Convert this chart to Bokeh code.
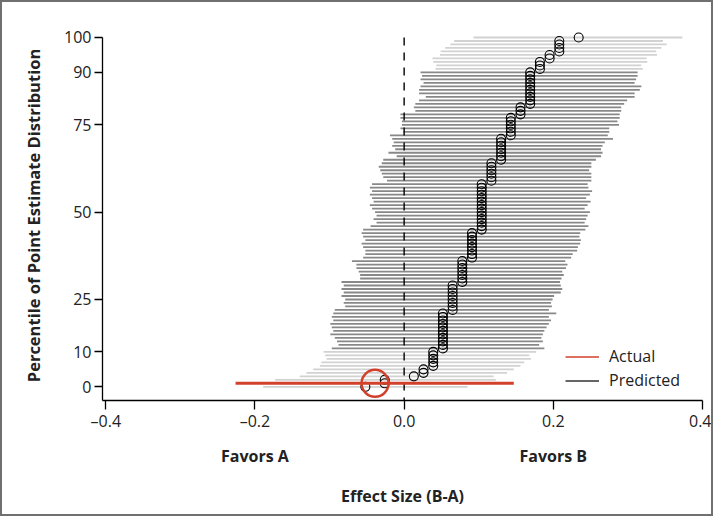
from bokeh.plotting import figure
from bokeh.models import ColumnDataSource, FixedTicker, LinearAxis, Legend, LegendItem, Range1d
from bokeh.embed import file_html
from bokeh.resources import INLINE

# ---------------- data ----------------
percentile = list(range(101))

point_estimate = [
    -0.052, -0.026, -0.026, 0.013, 0.026, 0.026, 0.039, 0.039, 0.039, 0.039, 0.039,
    0.052, 0.052, 0.052, 0.052, 0.052, 0.052, 0.052, 0.052, 0.052, 0.052, 0.052,
    0.065, 0.065, 0.065, 0.065, 0.065, 0.065, 0.065, 0.065,
    0.078, 0.078, 0.078, 0.078, 0.078, 0.078, 0.078,
    0.091, 0.091, 0.091, 0.091, 0.091, 0.091, 0.091, 0.091,
    0.104, 0.104, 0.104, 0.104, 0.104, 0.104, 0.104, 0.104, 0.104, 0.104, 0.104, 0.104, 0.104, 0.104,
    0.117, 0.117, 0.117, 0.117, 0.117, 0.117,
    0.130, 0.130, 0.130, 0.130, 0.130, 0.130, 0.130,
    0.143, 0.143, 0.143, 0.143, 0.143, 0.143,
    0.156, 0.156, 0.156,
    0.169, 0.169, 0.169, 0.169, 0.169, 0.169, 0.169, 0.169, 0.169, 0.169,
    0.182, 0.182, 0.182,
    0.195, 0.195,
    0.208, 0.208, 0.208, 0.208,
    0.234,
]

ci_lower = [
    -0.189, -0.165, -0.173, -0.140, -0.131, -0.122, -0.113, -0.111, -0.104, -0.106, -0.108,
    -0.097, -0.088, -0.090, -0.093, -0.099, -0.095, -0.097, -0.099, -0.095, -0.097, -0.095,
    -0.093, -0.079, -0.081, -0.079, -0.084, -0.081, -0.084, -0.081, -0.084,
    -0.059, -0.059, -0.061, -0.064, -0.064, -0.070,
    -0.055, -0.052, -0.052, -0.055, -0.057, -0.052, -0.055, -0.057, -0.055, -0.045,
    -0.037, -0.041, -0.037, -0.039, -0.043, -0.046, -0.041, -0.043, -0.046, -0.043, -0.046, -0.043,
    -0.023, -0.028, -0.030, -0.032, -0.034, -0.030, -0.028,
    -0.010, -0.021, -0.012, -0.016, -0.014, -0.016, -0.019,
    -0.001, -0.005, -0.003, -0.003, -0.005, -0.005,
    0.015, 0.013, 0.015, 0.020, 0.029, 0.020, 0.020, 0.022, 0.026, 0.022, 0.024, 0.022,
    0.042, 0.043, 0.039, 0.038, 0.048, 0.049, 0.055, 0.062, 0.067, 0.093,
]

ci_upper = [
    0.085, 0.110, 0.123, 0.120, 0.138, 0.147, 0.156, 0.161, 0.170, 0.168, 0.177,
    0.188, 0.181, 0.186, 0.184, 0.186, 0.188, 0.191, 0.194, 0.197, 0.194, 0.204,
    0.194, 0.198, 0.197, 0.199, 0.201, 0.210, 0.212, 0.210, 0.209,
    0.211, 0.214, 0.212, 0.217, 0.219, 0.216,
    0.224, 0.226, 0.232, 0.233, 0.236, 0.237, 0.235, 0.236, 0.243, 0.247,
    0.242, 0.244, 0.246, 0.249, 0.242, 0.246, 0.250, 0.244, 0.249, 0.252, 0.247, 0.246,
    0.251, 0.251, 0.251, 0.248, 0.251, 0.251, 0.257,
    0.264, 0.266, 0.264, 0.266, 0.269, 0.280, 0.273,
    0.275, 0.275, 0.288, 0.286, 0.289, 0.289,
    0.291, 0.291, 0.295, 0.299, 0.309, 0.309, 0.316, 0.318, 0.309, 0.311, 0.313, 0.313,
    0.320, 0.318, 0.326, 0.325, 0.339, 0.338, 0.345, 0.352, 0.347, 0.373,
]

actual_percentile = [1]
actual_estimate = [-0.039]
actual_lower = [-0.226]
actual_upper = [0.147]

null_effect = [0.0]

y_ticks = [0, 10, 25, 50, 75, 90, 100]
x_ticks = [-0.4, -0.2, 0.0, 0.2, 0.4]
x_tick_labels = ["\u20130.4", "\u20130.2", "0.0", "0.2", "0.4"]
favor_ticks = [-0.2, 0.2]
favor_labels = ["Favors A", "Favors B"]
legend_labels = ["Actual", "Predicted"]

inner_low, inner_high = 10, 90   # percentiles drawn darker lie strictly inside

# ---------------- styling ----------------
FONT = "Open Sans"
RED = "#d2402c"
DARK = "#888888"
LIGHT = "#d2d2d2"
TXT = "#222222"

y_start, y_end = -3.92, 102
x_start, x_end = -0.4044, 0.4

colors = [DARK if inner_low < q <= inner_high else LIGHT for q in percentile]
src = ColumnDataSource(dict(p=percentile, est=point_estimate, lo=ci_lower, hi=ci_upper, c=colors))

p = figure(width=713, height=516, x_range=Range1d(x_start, x_end), y_range=Range1d(y_start, y_end),
           output_backend="svg", toolbar_location=None,
           min_border_left=100, min_border_right=13, min_border_top=28, min_border_bottom=118)
p.styles = {"border": "2px solid #707070"}
p.grid.visible = False
p.outline_line_color = None
p.background_fill_color = "white"

# gray predicted interval lines
p.segment(x0="lo", y0="p", x1="hi", y1="p", source=src, line_color="c", line_width=1.8)

# null-effect dashed line
p.segment(x0=null_effect, y0=[max(percentile)], x1=null_effect, y1=[y_start],
          line_color="black", line_width=1.4, line_dash="8 7")

# point estimates
p.scatter(x="est", y="p", source=src, marker="circle", size=9, fill_color=None,
          line_color="black", line_width=1.1)

# actual result
p.segment(x0=actual_lower, y0=actual_percentile, x1=actual_upper, y1=actual_percentile,
          line_color=RED, line_width=3)
p.scatter(x=actual_estimate, y=actual_percentile, marker="circle", size=27, fill_color=None,
          line_color=RED, line_width=2.5)

# legend renderers (not drawn in the plot: NaN data)
nan = float("nan")
r_act = p.line(x=[nan, nan], y=[nan, nan], line_color=RED, line_width=1.5)
r_pred = p.line(x=[nan, nan], y=[nan, nan], line_color="#333333", line_width=1.5)
legend = Legend(items=[LegendItem(label=legend_labels[0], renderers=[r_act]),
                       LegendItem(label=legend_labels[1], renderers=[r_pred])],
                location=(463, 9), glyph_width=34, glyph_height=17, label_height=17,
                label_standoff=10, spacing=2, padding=0, margin=0,
                border_line_color=None, background_fill_alpha=0,
                label_text_font=FONT, label_text_font_size="16px", label_text_color=TXT)
p.add_layout(legend)

# y axis
ya = p.yaxis[0]
ya.ticker = FixedTicker(ticks=y_ticks)
ya.bounds = (y_start, max(y_ticks))
ya.major_tick_out = 8
ya.major_tick_in = 0
ya.minor_tick_line_color = None
ya.major_label_standoff = 3
ya.major_label_text_font = FONT
ya.major_label_text_font_size = "16px"
ya.major_label_text_color = TXT
ya.axis_label = "Percentile of Point Estimate Distribution"
ya.axis_label_text_font = FONT
ya.axis_label_text_font_size = "16.5px"
ya.axis_label_text_font_style = "bold"
ya.axis_label_text_color = TXT
ya.axis_label_standoff = 16
ya.axis_line_width = 1.3
ya.major_tick_line_width = 1.3

# x axis
xa = p.xaxis[0]
xa.ticker = FixedTicker(ticks=x_ticks)
xa.major_label_overrides = dict(zip(x_ticks, x_tick_labels))
xa.major_tick_out = 9
xa.major_tick_in = 0
xa.minor_tick_line_color = None
xa.major_label_standoff = 0
xa.major_label_text_font = FONT
xa.major_label_text_font_size = "16px"
xa.major_label_text_color = TXT
xa.axis_line_width = 1.3
xa.major_tick_line_width = 1.3

xb = LinearAxis(ticker=FixedTicker(ticks=favor_ticks),
                major_label_overrides=dict(zip(favor_ticks, favor_labels)),
                axis_line_color=None, major_tick_line_color=None, minor_tick_line_color=None,
                major_tick_out=0, major_tick_in=0, major_label_standoff=10,
                major_label_text_font=FONT, major_label_text_font_size="16px",
                major_label_text_font_style="bold", major_label_text_color=TXT,
                axis_label="Effect Size (B-A)", axis_label_text_font=FONT,
                axis_label_text_font_size="16px", axis_label_text_font_style="bold",
                axis_label_text_color=TXT, axis_label_standoff=15)
p.add_layout(xb, "below")

open("out.html", "w").write(file_html(p, INLINE))
